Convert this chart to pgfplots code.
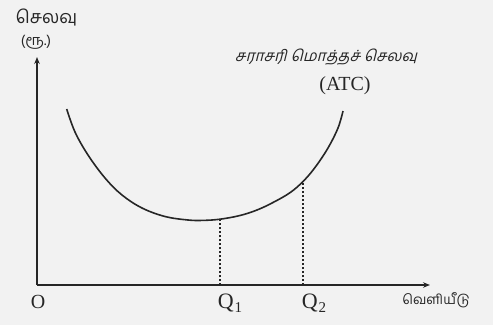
\documentclass[border=0pt]{standalone}
\usepackage{fontspec}
\setmainfont{Liberation Serif}
\newfontfamily\tamil[Script=Tamil]{Hind Madurai}
\newfontfamily\tamilsl[Script=Tamil,FakeSlant=0.25]{Hind Madurai}
\usepackage{pgfplots}
\usepackage{pgfplotstable}
\pgfplotsset{compat=1.18}
\usetikzlibrary{arrows.meta}
\definecolor{ink}{gray}{0.15}
\definecolor{paper}{gray}{0.95}

\pgfplotstableread{
x y
29.7 176
38 153
51 130
68 107
85 90
105 77
128 68.5
151 65
166 64.6
183 65.8
203 69.5
220 75
236 82.5
253 92.3
266 103.5
278 117.5
291 137
301 157
306 174
}\atc

\pgfplotstableread{
x y
183 0
183 65.8
}\qone

\pgfplotstableread{
x y
266 0
266 103.5
}\qtwo

\newcommand{\Qsub}[1]{Q\kern1pt\raisebox{-0.45ex}{\fontsize{15}{15}\selectfont #1}}

\begin{document}
\begin{tikzpicture}
\fill[paper] (-37pt,-40pt) rectangle (456pt,285pt);
\begin{axis}[
  x=1pt, y=1pt,
  xmin=0, xmax=393, ymin=0, ymax=228,
  axis lines=left,
  axis line style={ink, line width=1.4pt, -{Stealth[length=7pt,width=5.5pt]}},
  xtick=\empty, ytick=\empty,
  clip=false,
]
\addplot[ink, line width=1.6pt, smooth, tension=0.6] table[x=x,y=y] {\atc};
\addplot[ink, line width=1.1pt, dash pattern=on 2pt off 2pt] table[x=x,y=y] {\qone};
\addplot[ink, line width=1.1pt, dash pattern=on 2pt off 2pt] table[x=x,y=y] {\qtwo};

\node[ink, font=\tamil\fontsize{18}{20}\selectfont] at (axis cs:9.5,267) {செலவு};
\node[ink, font=\tamil\fontsize{14.5}{16}\selectfont] at (axis cs:-1,243) {(ரூ.)};
\node[ink, font=\tamilsl\fontsize{15.5}{17}\selectfont] at (axis cs:289,228) {சராசரி மொத்தச் செலவு};
\node[ink, font=\fontsize{20}{22}\selectfont] at (axis cs:308,199) {(ATC)};
\node[ink, font=\fontsize{20}{22}\selectfont] at (axis cs:1,-17) {O};
\node[ink, font=\fontsize{22}{24}\selectfont] at (axis cs:193,-18) {\Qsub{1}};
\node[ink, font=\fontsize{22}{24}\selectfont] at (axis cs:277,-18) {\Qsub{2}};
\node[ink, font=\tamil\fontsize{13.5}{15}\selectfont] at (axis cs:399,-15) {வெளியீடு};
\end{axis}
\end{tikzpicture}
\end{document}
